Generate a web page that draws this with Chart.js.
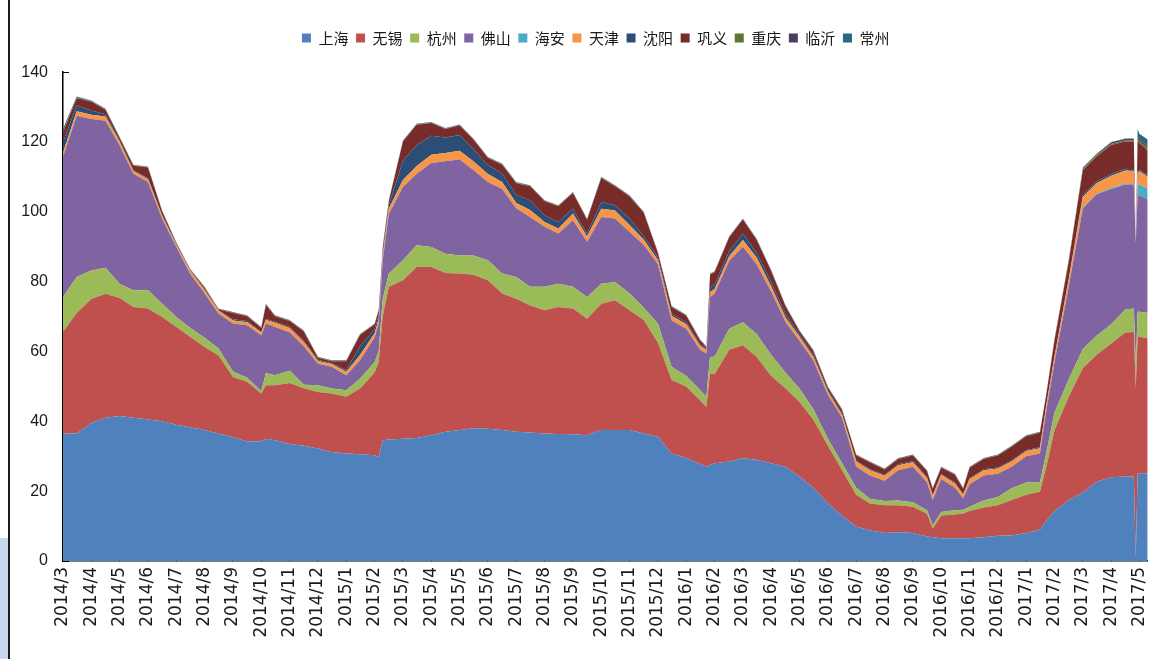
<!DOCTYPE html>
<html>
<head>
<meta charset="utf-8">
<script src="https://cdn.jsdelivr.net/npm/chart.js@4.4.0/dist/chart.umd.min.js"></script>
<style>
html,body{margin:0;padding:0;background:#fff;}
#wrap{position:relative;width:1172px;height:659px;overflow:hidden;background:#fff;}
#c{position:absolute;left:0;top:0;}
#lb{position:absolute;left:8px;top:0;width:2px;height:659px;background:#1a1a1a;}
#bl{position:absolute;left:0;top:538px;width:8px;height:121px;background:#c6d9f0;}
</style>
</head>
<body>
<div id="wrap"><canvas id="c" width="1172" height="659"></canvas><div id="lb"></div><div id="bl"></div></div>
<script>
const dates = ['2014-03-01','2014-03-16','2014-04-01','2014-04-16','2014-05-01','2014-05-16','2014-06-01','2014-06-16','2014-07-01','2014-07-16','2014-08-01','2014-08-16','2014-09-01','2014-09-16','2014-10-01','2014-10-06','2014-10-16','2014-11-01','2014-11-16','2014-12-01','2014-12-16',
'2015-01-01','2015-01-16','2015-02-01','2015-02-05','2015-02-09','2015-02-15','2015-03-01','2015-03-16','2015-04-01','2015-04-16','2015-05-01','2015-05-16','2015-06-01','2015-06-16','2015-07-01','2015-07-16','2015-08-01','2015-08-16','2015-09-01','2015-09-16','2015-10-01','2015-10-16','2015-11-01','2015-11-16','2015-12-01','2015-12-16',
'2016-01-01','2016-01-16','2016-01-23','2016-01-27','2016-02-01','2016-02-16','2016-03-01','2016-03-16','2016-04-01','2016-04-16','2016-05-01','2016-05-16','2016-06-01','2016-06-16','2016-07-01','2016-07-16','2016-08-01','2016-08-16','2016-09-01','2016-09-16','2016-09-22','2016-10-01','2016-10-16','2016-10-25','2016-11-01','2016-11-16','2016-12-01','2016-12-16',
'2017-01-01','2017-01-16','2017-01-23','2017-02-01','2017-02-15','2017-03-01','2017-03-16','2017-04-01','2017-04-16','2017-04-25','2017-04-27','2017-04-29','2017-05-01','2017-05-10'];

const monthLabels = ['2014/3','2014/4','2014/5','2014/6','2014/7','2014/8','2014/9','2014/10','2014/11','2014/12',
'2015/1','2015/2','2015/3','2015/4','2015/5','2015/6','2015/7','2015/8','2015/9','2015/10','2015/11','2015/12',
'2016/1','2016/2','2016/3','2016/4','2016/5','2016/6','2016/7','2016/8','2016/9','2016/10','2016/11','2016/12',
'2017/1','2017/2','2017/3','2017/4','2017/5'];

const seriesNames = ['上海','无锡','杭州','佛山','海安','天津','沈阳','巩义','重庆','临沂','常州'];
const seriesColors = ['#4F81BD','#C0504D','#9BBB59','#8064A2','#4BACC6','#F79646','#2C4D75','#772C2A','#5F7530','#4D3B62','#276A7C'];

const shanghai = [36.5,36.5,39.5,41.0,41.5,41.0,40.5,40.0,39.0,38.3,37.5,36.5,35.5,34.2,34.3,35.0,34.6,33.5,33.0,32.2,31.2,
30.8,30.6,30.3,29.8,34.6,34.8,35.0,35.2,36.0,37.0,37.5,38.0,37.9,37.5,37.0,36.8,36.5,36.4,36.3,36.0,37.5,37.5,37.5,36.5,35.6,30.8,
29.5,27.8,27.0,27.5,28.0,28.5,29.4,29.0,28.0,27.0,24.2,21.0,16.5,13.0,9.8,8.8,8.0,8.2,8.0,7.0,6.8,6.5,6.5,6.5,6.5,6.8,7.2,7.3,
8.0,9.0,11.5,14.3,17.5,19.6,22.7,24.0,24.2,24.2,1.0,25.1,25.1,25.1];

const wuxi = [29.1,34.5,35.5,35.5,33.8,31.7,31.8,29.9,28.0,25.9,23.8,22.4,17.2,17.1,13.7,15.3,15.7,17.5,16.5,16.2,16.8,
16.2,18.8,23.7,27.2,35.4,43.7,45.4,49.0,48.2,45.5,44.8,44.0,42.5,39.1,38.1,36.4,35.3,36.3,36.0,33.4,36.2,37.2,34.3,32.5,26.9,21.0,
20.5,18.2,17.1,26.2,25.5,32.0,32.4,29.5,25.0,22.5,21.3,19.5,16.5,13.0,9.2,7.7,8.0,7.8,7.5,6.5,2.5,6.5,6.8,7.1,7.8,8.5,8.8,10.2,
11.0,10.8,15.5,23.2,29.5,35.7,36.3,38.3,41.2,41.4,48.5,39.1,39.1,38.6];

const hangzhou = [10.0,10.3,8.2,7.5,4.0,4.8,5.2,3.8,2.9,2.6,2.6,2.0,1.6,1.2,0.6,3.5,2.9,3.5,1.0,1.9,1.4,
1.9,2.8,3.0,3.0,5.0,3.8,5.7,6.2,5.7,5.5,5.2,5.5,5.7,5.7,6.2,5.3,6.7,6.7,6.2,6.2,5.7,5.2,4.8,3.5,5.5,3.8,
3.0,3.0,2.9,4.7,5.0,6.0,6.6,6.5,6.0,4.5,3.8,3.0,2.0,2.0,2.0,1.3,1.2,1.3,1.3,1.0,0.9,1.0,1.2,1.1,1.2,2.0,2.3,3.3,
3.5,2.7,4.0,5.0,5.0,5.4,5.5,5.5,6.6,6.7,6.5,7.2,7.2,7.3];

const foshan = [40.0,46.2,43.4,42.1,39.7,33.4,31.0,24.3,20.0,15.5,12.7,10.0,13.7,15.0,16.0,14.2,13.8,11.0,11.0,6.2,6.2,
4.3,5.3,7.0,8.0,11.0,17.1,21.0,20.5,24.1,26.5,27.5,24.5,22.4,24.2,19.7,20.0,17.2,14.4,19.1,15.8,19.1,18.2,17.6,18.0,17.0,13.3,
13.5,11.5,12.4,17.2,18.0,19.5,21.6,20.0,18.1,14.5,13.7,14.0,12.5,13.0,6.0,6.7,5.8,8.7,10.2,8.0,7.3,9.5,6.5,3.3,6.5,7.2,6.7,6.2,
7.5,8.3,12.0,14.5,26.5,40.3,40.5,38.7,35.8,35.3,35.0,33.3,33.3,32.5];

const haian = [0,0,0,0,0,0,0,0,0,0,0,0,0,0,0,0,0,0,0,0,0,
0,0,0,0,0,0,0,0,0,0,0,0,0,0,0,0,0,0,0,0,0,0,0,0,0,0,
0,0,0,0,0,0,0,0,0,0,0,0,0,0,0,0,0,0,0,0,0,0,0,0,0,0,0,0,
0,0,0,0,0,0.2,0.2,0.3,0.3,0.3,0,3.0,3.2,3.0];

const tianjin = [1.4,1.3,1.2,1.2,1.0,0.8,0.8,0.8,0.6,0.8,0.9,0.8,0.9,0.9,0.8,1.0,1.2,1.2,1.2,0.8,0.8,
1.0,1.5,1.2,1.2,1.3,1.5,2.0,2.2,2.3,2.3,2.5,2.5,2.3,2.0,1.5,2.0,1.4,1.4,1.9,1.5,2.4,2.3,2.0,1.5,1.2,1.3,
1.3,1.2,1.0,1.4,1.4,1.3,1.9,1.9,1.5,1.3,1.2,1.0,1.0,0.8,1.5,1.5,1.4,1.4,1.3,1.2,1.2,1.2,1.2,1.0,1.4,1.5,1.5,1.5,
1.5,1.5,1.5,1.5,2.0,3.0,3.0,3.5,3.7,3.8,0.5,3.5,3.7,3.5];

const shenyang = [3.0,1.6,1.2,0.6,0.3,0.2,0.3,0.2,0.1,0.1,0.2,0.1,0.3,0.3,0.2,0.3,0.3,0.3,0.3,0.3,0.2,
0.5,2.5,1.2,1.2,1.2,1.0,5.5,6.0,5.5,4.5,4.5,3.5,2.5,2.5,2.3,2.8,1.9,1.9,1.4,0.8,1.9,1.5,1.9,1.0,0.8,0.6,
0.6,0.5,0.3,1.4,1.2,1.5,1.9,1.4,1.2,1.0,0.6,0.6,0.5,0.4,0.3,0.3,0.3,0.3,0.3,0.3,0.3,0.3,0.3,0.2,0.3,0.3,0.3,0.3,
0.3,0.3,0.3,0.3,0.4,0.5,0.5,0.5,0.5,0.5,0,0.5,0.4,0.5];

const gongyi = [2.8,2.2,2.5,1.3,0.8,1.3,3.1,1.1,0.4,0.2,0.5,0.2,1.8,1.4,1.1,4.1,1.6,1.7,2.7,0.6,0.6,
2.5,3.2,1.3,1.3,1.2,1.1,5.5,5.8,3.6,2.4,2.7,2.7,2.1,2.5,3.4,4.0,4.0,4.5,4.5,4.0,6.9,5.4,6.3,6.7,1.2,1.9,
1.8,1.0,0.5,3.6,3.6,3.9,4.0,3.7,3.2,2.2,0.9,1.1,0.7,1.0,1.4,1.9,1.5,1.5,1.6,1.7,1.7,1.7,2.2,1.5,3.0,2.9,3.4,3.9,
3.9,4.1,2.9,4.4,4.8,7.3,7.1,8.3,7.8,7.9,0.2,8.5,7.6,7.0];

const chongqing = [0.1,0.1,0.1,0.1,0.1,0.1,0.1,0.1,0.1,0.1,0.1,0.1,0.1,0.1,0.1,0.1,0.1,0.1,0.1,0.1,0.1,
0.1,0.1,0.1,0.1,0.1,0.1,0.1,0.1,0.1,0.1,0.1,0.1,0.1,0.1,0.1,0.1,0.1,0.1,0.1,0.1,0.1,0.1,0.1,0.1,0.1,0.1,
0.1,0.1,0.1,0.1,0.1,0.1,0.1,0.1,0.1,0.1,0.1,0.1,0.1,0.1,0.1,0.1,0.1,0.1,0.1,0.1,0.1,0.1,0.1,0.1,0.1,0.1,0.1,0.1,
0.1,0.1,0.1,0.2,0.2,0.3,0.4,0.4,0.4,0.4,0.1,0.6,0.6,0.6];

const linyi = [0.1,0.1,0.1,0.1,0.1,0.1,0.1,0.1,0.1,0.1,0.1,0.1,0.1,0.1,0.1,0.1,0.1,0.1,0.1,0.1,0.1,
0.1,0.1,0.1,0.1,0.1,0.1,0.1,0.1,0.1,0.1,0.1,0.1,0.1,0.1,0.1,0.1,0.1,0.1,0.1,0.1,0.1,0.1,0.1,0.1,0.1,0.1,
0.1,0.1,0.1,0.1,0.1,0.1,0.1,0.1,0.1,0.1,0.1,0.1,0.1,0.1,0.1,0.1,0.1,0.1,0.1,0.1,0.1,0.1,0.1,0.1,0.1,0.1,0.1,0.1,
0.1,0.1,0.1,0.2,0.2,0.3,0.3,0.4,0.4,0.4,0.1,0.6,0.6,0.6];

const changzhou = [0.8,0.2,0.2,0.1,0.1,0.1,0.1,0.1,0.1,0.1,0.1,0.1,0.1,0.1,0.1,0.1,0.1,0.1,0.1,0.1,0.1,
0.1,0.1,0.1,0.1,0.1,0.1,0.1,0.1,0.1,0.1,0.1,0.1,0.1,0.1,0.1,0.1,0.1,0.1,0.1,0.1,0.1,0.1,0.1,0.1,0.1,0.1,
0.1,0.1,0.1,0.1,0.1,0.1,0.1,0.1,0.1,0.1,0.1,0.1,0.1,0.1,0.1,0.1,0.1,0.1,0.1,0.1,0.1,0.1,0.1,0.1,0.1,0.1,0.1,0.1,
0.1,0.1,0.1,0.1,0.1,0.1,0.1,0.1,0.1,0.1,0.1,2.2,1.5,2.0];

const seriesValues = [shanghai, wuxi, hangzhou, foshan, haian, tianjin, shenyang, gongyi, chongqing, linyi, changzhou];

// month index since 2014/3 (position of each date on the month axis)
function monthIndex(s) {
  const p = s.split('-').map(Number);
  const dim = new Date(p[0], p[1], 0).getDate();
  return (p[0] - 2014) * 12 + (p[1] - 3) + (p[2] - 1) / dim;
}
const xs = dates.map(monthIndex);

const datasets = seriesNames.map((name, i) => ({
  label: name,
  data: seriesValues[i].map((v, j) => ({ x: xs[j], y: v })),
  backgroundColor: seriesColors[i],
  borderColor: 'rgba(0,0,0,0)',
  borderWidth: 0,
  pointRadius: 0,
  pointHoverRadius: 0,
  tension: 0,
  fill: i === 0 ? 'origin' : '-1'
}));

const LEGEND_SHIFT = 14.7;
const legendTweak = {
  id: 'legendTweak',
  beforeLayout(chart) {
    const lg = chart.legend;
    if (lg && !lg._spaced) {
      const orig = lg.fit;
      lg.fit = function () { orig.call(this); this.height += 16.5; };
      lg._spaced = true;
    }
  },
  afterLayout(chart) {
    const lg = chart.legend;
    if (lg) { lg.left += LEGEND_SHIFT; lg.right += LEGEND_SHIFT; }
  }
};

const yFont = { family: '"Liberation Sans", Arial, sans-serif', size: 16 };
const xFont = { family: '"DejaVu Sans", Verdana, sans-serif', size: 17 };

new Chart(document.getElementById('c'), {
  type: 'line',
  data: { datasets },
  plugins: [legendTweak],
  options: {
    responsive: false,
    animation: false,
    events: [],
    layout: { padding: { left: 0, right: 10, top: 23, bottom: 0 } },
    plugins: {
      legend: {
        position: 'top',
        labels: {
          boxWidth: 9, boxHeight: 9, padding: 7.6, color: '#1a1a1a',
          font: { family: '"Noto Sans CJK SC", sans-serif', size: 15 }
        }
      },
      tooltip: { enabled: false },
      filler: { propagate: false }
    },
    scales: {
      x: {
        type: 'linear',
        min: 0,
        max: xs[xs.length - 1],
        grid: { display: true, drawOnChartArea: false, drawTicks: true, tickLength: -6, color: '#000', lineWidth: 1 },
        border: { display: true, color: '#000', width: 1.5 },
        ticks: {
          stepSize: 1, autoSkip: false, includeBounds: false,
          minRotation: 90, maxRotation: 90, padding: 12,
          color: '#1a1a1a', font: xFont,
          callback: (v) => (monthLabels[v] !== undefined ? monthLabels[v] : '')
        },
        afterFit: (s) => { s.height = 98; }
      },
      y: {
        stacked: true,
        min: 0,
        max: 140,
        grid: { display: true, drawOnChartArea: false, drawTicks: true, tickLength: -6, color: '#000', lineWidth: 1 },
        border: { display: true, color: '#000', width: 1.5 },
        ticks: { stepSize: 20, padding: 21, color: '#1a1a1a', font: yFont },
        afterFit: (s) => { s.width = 63; }
      }
    }
  }
});
</script>
</body>
</html>
